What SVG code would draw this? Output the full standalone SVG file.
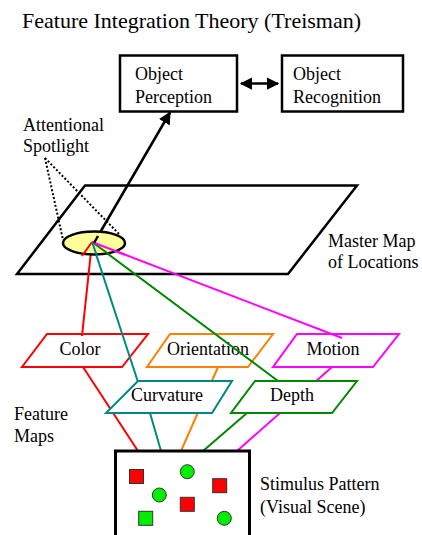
<svg xmlns="http://www.w3.org/2000/svg" width="422" height="535" viewBox="0 0 422 535" font-family="'Liberation Serif', 'Times New Roman', 'DejaVu Serif', serif">
<defs>
<style>
text{font-family:'Liberation Serif','Times New Roman','DejaVu Serif',serif;font-size:18px;fill:#000}
.title{font-size:22px}
.box{fill:#fff;stroke:#000;stroke-width:2.5}
.pg{fill:#fff;stroke-width:2}
.ln{fill:none;stroke-width:2}
.mid{text-anchor:middle}
.sq{fill:#f00;stroke:#333;stroke-width:1}
.gc{fill:#0e0;stroke:#333;stroke-width:1}
</style>
<marker id="ah" viewBox="0 0 10 10" refX="9" refY="5" markerWidth="5" markerHeight="5" orient="auto-start-reverse" markerUnits="strokeWidth">
<path d="M0,0 L10,5 L0,10 z" fill="#000"/>
</marker>
</defs>
<rect width="422" height="535" fill="#fff"/>
<text class="title" x="22" y="28">Feature Integration Theory (Treisman)</text>

<g id="object-perception">
<rect class="box" x="120" y="55.5" width="117" height="56"/>
<text x="135" y="80">Object</text>
<text x="135" y="103">Perception</text>
</g>
<g id="object-recognition">
<rect class="box" x="282" y="55.5" width="121" height="56"/>
<text x="293" y="80">Object</text>
<text x="293" y="103">Recognition</text>
</g>

<g id="attentional-spotlight-label">
<text x="23" y="131">Attentional</text>
<text x="23" y="152">Spotlight</text>
</g>

<g id="master-map">
<polygon points="85,185.5 357,185.5 288,274 17,274" fill="#fff" stroke="#000" stroke-width="2.5"/>
<text x="328" y="247">Master Map</text>
<text x="328" y="268">of Locations</text>
</g>

<g id="color-map">
<polygon class="pg" stroke="#f00" points="47,334 148,334 122,367 22,367"/>
<text class="mid" x="80" y="355">Color</text>
</g>
<g id="orientation-map">
<polygon class="pg" stroke="#ff7f00" points="170,334 273,334 248,367 147,367"/>
<text class="mid" x="208" y="355">Orientation</text>
</g>
<g id="motion-map">
<polygon class="pg" stroke="#f0f" points="297,334 399,334 373,367 273,367"/>
<text class="mid" x="333" y="355">Motion</text>
</g>

<g id="connectors">
<path class="ln" d="M45,158 L63,240 M45,158 L120,235" stroke="#000" stroke-dasharray="2,2"/>
<line x1="98" y1="236" x2="170" y2="112.5" stroke="#000" stroke-width="2.5" marker-end="url(#ah)"/>
<line x1="241" y1="83.5" x2="278" y2="83.5" stroke="#000" stroke-width="2.5" marker-start="url(#ah)" marker-end="url(#ah)"/>
<line class="ln" x1="92" y1="242" x2="82" y2="336" stroke="#f00"/>
<line class="ln" x1="92" y1="242" x2="138" y2="382" stroke="#088"/>
<line class="ln" x1="92" y1="242" x2="282" y2="384" stroke="#080"/>
<line class="ln" x1="92" y1="242" x2="342" y2="338" stroke="#f0f"/>
<line class="ln" x1="83" y1="367" x2="138" y2="451" stroke="#f00"/>
<line class="ln" x1="150" y1="413" x2="161" y2="451" stroke="#088"/>
<line class="ln" x1="218" y1="367" x2="181" y2="451" stroke="#ff7f00"/>
<line class="ln" x1="247" y1="413" x2="203" y2="451" stroke="#080"/>
<line class="ln" x1="332" y1="367" x2="237" y2="451" stroke="#f0f"/>
</g>

<g id="attentional-spotlight">
<ellipse cx="94" cy="243" rx="31" ry="11.5" fill="#ffff99" stroke="#000" stroke-width="2.5"/>
<line x1="92" y1="242" x2="82" y2="256" stroke="#f00" stroke-width="2"/>
<line x1="92" y1="242" x2="97" y2="256" stroke="#088" stroke-width="2"/>
<line x1="92" y1="242" x2="110" y2="255" stroke="#080" stroke-width="2"/>
<line x1="92" y1="242" x2="125" y2="254.7" stroke="#f0f" stroke-width="2"/>
<line x1="98" y1="236" x2="94" y2="243" stroke="#000" stroke-width="2.5"/>
</g>

<g id="curvature-map">
<polygon class="pg" stroke="#088" points="138,381 232,381 212,413 106,413"/>
<text class="mid" x="167" y="401">Curvature</text>
</g>
<g id="depth-map">
<polygon class="pg" stroke="#080" points="255,381 357,381 332,413 231,413"/>
<text class="mid" x="292" y="401">Depth</text>
</g>

<g id="feature-maps-label">
<text x="14" y="420">Feature</text>
<text x="14" y="442">Maps</text>
</g>

<g id="stimulus-pattern">
<rect x="115.5" y="451" width="134" height="90" fill="#fff" stroke="#000" stroke-width="3"/>
<rect class="sq" x="129.5" y="469.5" width="14" height="14"/>
<circle class="gc" cx="187.3" cy="471.7" r="7"/>
<rect class="sq" x="212.7" y="478.7" width="14" height="14"/>
<circle class="gc" cx="159.3" cy="495" r="7"/>
<rect class="sq" x="180.3" y="497.3" width="14" height="14"/>
<rect x="138.7" y="511.3" width="14" height="14" fill="#0e0" stroke="#333" stroke-width="1"/>
<circle class="gc" cx="224.3" cy="518.3" r="7"/>
<text x="260" y="490">Stimulus Pattern</text>
<text x="260" y="513">(Visual Scene)</text>
</g>
</svg>
